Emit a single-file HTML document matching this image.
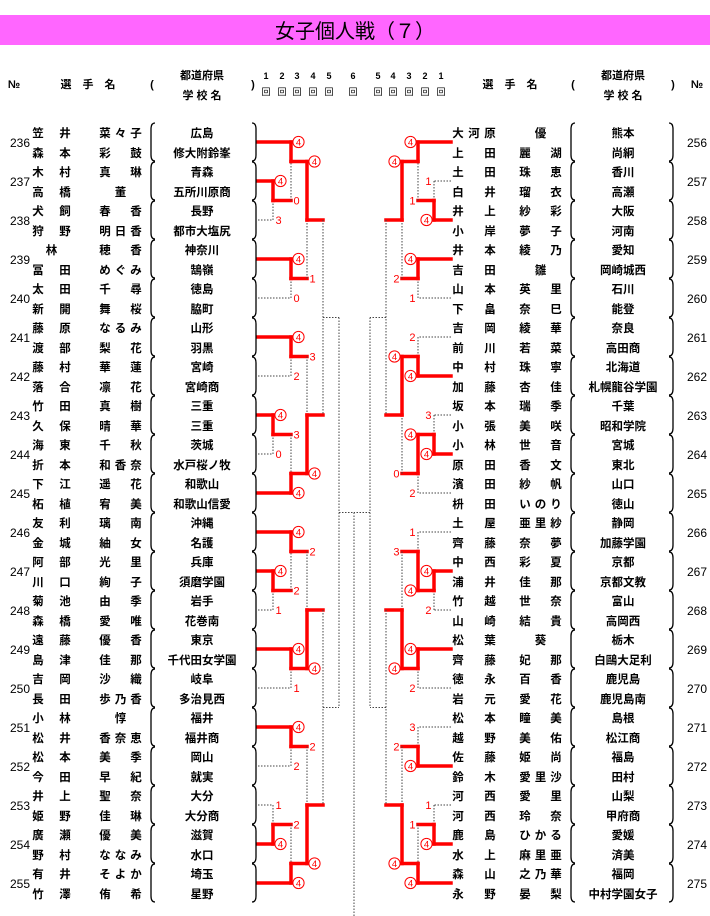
<!DOCTYPE html>
<html><head><meta charset="utf-8">
<style>
html,body{margin:0;padding:0;background:#fff;}
svg{display:block;font-family:"Liberation Sans","Noto Sans CJK JP",sans-serif;}
</style></head>
<body>
<svg id="chart" width="710" height="916" viewBox="0 0 710 916" xmlns="http://www.w3.org/2000/svg">
<rect x="0" y="15" width="710" height="30" fill="#ff66ff"/>
<text x="355" y="38" font-size="20" text-anchor="middle" fill="#000" font-family="Liberation Sans, Noto Sans CJK JP, sans-serif">女子個人戦（７）</text>
<g id="hdr" font-size="11" font-weight="bold" fill="#000">
<text x="14" y="88" text-anchor="middle">№</text>
<text x="88" y="88" text-anchor="middle">選　手　名</text>
<text x="152" y="88" text-anchor="middle">(</text>
<text x="202" y="79" text-anchor="middle">都道府県</text>
<text x="202" y="99" text-anchor="middle">学 校 名</text>
<text x="253" y="88" text-anchor="middle">)</text>
<text x="510" y="88" text-anchor="middle">選　手　名</text>
<text x="573" y="88" text-anchor="middle">(</text>
<text x="623" y="79" text-anchor="middle">都道府県</text>
<text x="623" y="99" text-anchor="middle">学 校 名</text>
<text x="673" y="88" text-anchor="middle">)</text>
<text x="697" y="88" text-anchor="middle">№</text>
</g>
<g id="rounds" font-size="9" fill="#000"></g>
<g id="lines"></g>
<g id="labels" font-size="11" fill="#f00"></g>
<g id="entries" font-size="11.5" font-weight="bold" fill="#000"></g>
</svg>
<script>
// ---- data ----
const leftNos = [236,237,238,239,240,241,242,243,244,245,246,247,248,249,250,251,252,253,254,255];
const rightNos = [256,257,258,259,260,261,262,263,264,265,266,267,268,269,270,271,272,273,274,275];
const leftPlayers = [
 ["笠井|菜々子","森本|彩鼓"],["木村|真琳","高橋|董"],["犬飼|春香","狩野|明日香"],["林|穂香","冨田|めぐみ"],["太田|千尋","新開|舞桜"],
 ["藤原|なるみ","渡部|梨花"],["藤村|華蓮","落合|凛花"],["竹田|真樹","久保|晴華"],["海東|千秋","折本|和香奈"],["下江|遥花","柘植|宥美"],
 ["友利|璃南","金城|紬女"],["阿部|光里","川口|絢子"],["菊池|由季","森橋|愛唯"],["遠藤|優香","島津|佳那"],["吉岡|沙織","長田|歩乃香"],
 ["小林|惇","松井|香奈恵"],["松本|美季","今田|早紀"],["井上|聖奈","姫野|佳琳"],["廣瀬|優美","野村|ななみ"],["有井|そよか","竹澤|侑希"]];
const leftPrefs = ["広島","青森","長野","神奈川","徳島","山形","宮崎","三重","茨城","和歌山","沖縄","兵庫","岩手","東京","岐阜","福井","岡山","大分","滋賀","埼玉"];
const leftSchools = ["修大附鈴峯","五所川原商","都市大塩尻","鵠嶺","脇町","羽黒","宮崎商","三重","水戸桜ノ牧","和歌山信愛","名護","須磨学園","花巻南","千代田女学園","多治見西","福井商","就実","大分商","水口","星野"];
const rightPlayers = [
 ["大河原|優","上田|麗湖"],["土田|珠恵","白井|瑠衣"],["井上|紗彩","小岸|夢子"],["井本|綾乃","吉田|雛"],["山本|英里","下畠|奈巳"],
 ["吉岡|綾華","前川|若菜"],["中村|珠寧","加藤|杏佳"],["坂本|瑞季","小張|美咲"],["小林|世音","原田|香文"],["濱田|紗帆","枡田|いのり"],
 ["土屋|亜里紗","齊藤|奈夢"],["中西|彩夏","浦井|佳那"],["竹越|世奈","山崎|結貴"],["松葉|葵","齊藤|妃那"],["徳永|百香","岩元|愛花"],
 ["松本|瞳美","越野|美佑"],["佐藤|姫尚","鈴木|愛里沙"],["河西|愛里","河西|玲奈"],["鹿島|ひかる","水上|麻里亜"],["森山|之乃華","永野|晏梨"]];
const rightPrefs = ["熊本","香川","大阪","愛知","石川","奈良","北海道","千葉","宮城","山口","静岡","京都","富山","栃木","鹿児島","島根","福島","山梨","愛媛","福岡"];
const rightSchools = ["尚絅","高瀬","河南","岡崎城西","能登","高田商","札幌龍谷学園","昭和学院","東北","徳山","加藤学園","京都文教","高岡西","白鷗大足利","鹿児島南","松江商","田村","甲府商","済美","中村学園女子"];
const leftRound = [1,2,2,3,2,1,2,3,4,1,2,2,3,2,1,2,3,4,5];
const leftTop   = ["e1","e0","e3","m1","e5","e7","m5","m4","m3","e11","e10","e13","m10","e15","e17","m14","m13","m12","m8"];
const leftBot   = ["e2","m0","e4","m2","e6","e8","e9","m6","m7","e12","m9","e14","m11","e16","e18","e19","m15","m16","m17"];
const leftWin   = ["t","t","t","t","t","t","b","b",null,"t","t","t","b","t","b","b","b",null,null];
const leftScoreT= [4,4,4,4,4,4,3,3,null,4,4,4,2,4,1,2,2,null,null];
const leftScoreB= [3,0,0,1,2,0,4,4,null,1,2,1,4,2,4,4,4,null,null];
const rightRound = [1,2,2,3,2,1,2,3,4,1,2,2,3,2,1,2,3,4,5];
const rightTop   = ["e1","e0","e3","m1","e5","e7","m5","m4","m3","e11","e10","e13","m10","e15","e17","m14","m13","m12","m8"];
const rightBot   = ["e2","m0","e4","m2","e6","e8","e9","m6","m7","e12","m9","e14","m11","e16","e18","e19","m15","m16","m17"];
const rightWin   = ["b","t","t","t","b","b","t","t",null,"t","b","t","b","b","b","b","b",null,null];
const rightScoreT= [1,4,4,4,2,3,4,4,null,4,1,4,3,3,1,1,2,null,null];
const rightScoreB= [4,1,1,2,4,4,2,0,null,2,4,2,4,4,4,4,4,null,null];
const roundLabelsLeft = ["1","2","3","4","5","6"];
const roundLabelsRight = ["5","4","3","2","1"];

// ---- layout ----
const NS="http://www.w3.org/2000/svg";
const CENTER_X=354;
const entryY=i=>142+39*i;
const colLeft=[258,273,291,307,323,339];
const colRight=[451,434,418,402,386,370];
function mk(tag,attrs,parent){const el=document.createElementNS(NS,tag);for(const k in attrs)el.setAttribute(k,attrs[k]);parent.appendChild(el);return el;}
const gL=document.getElementById('lines'),gLab=document.getElementById('labels'),gE=document.getElementById('entries'),gR=document.getElementById('rounds');

const roundXL=[266,282,297,313,329,353], roundXR=[378,393,409,425,441];
roundLabelsLeft.forEach((t,i)=>{
  const tx=mk('text',{x:roundXL[i],y:79,'text-anchor':'middle','font-weight':'bold'},gR);tx.textContent=t;
  
  
  const b=mk('text',{x:roundXL[i],y:95,'text-anchor':'middle'},gR);b.textContent='回';
  
  
});
roundLabelsRight.forEach((t,i)=>{
  const tx=mk('text',{x:roundXR[i],y:79,'text-anchor':'middle','font-weight':'bold'},gR);tx.textContent=t;
  
  
  const b=mk('text',{x:roundXR[i],y:95,'text-anchor':'middle'},gR);b.textContent='回';
  
  
});

function line(x1,y1,x2,y2,red){
  const l=mk('line',{x1,y1,x2,y2},gL);
  if(red){l.setAttribute('stroke','#ff0000');l.setAttribute('stroke-width','3.5');l.setAttribute('stroke-linecap','square');}
  else{l.setAttribute('stroke','#444');l.setAttribute('stroke-width','1');l.setAttribute('stroke-dasharray','1.5,1.5');}
  
  
}
function label(x,y,val,win,dir){
  if(win){
    const cx=x+dir*6;
    const c=mk('circle',{cx,cy:y,r:5.6,fill:'#fff',stroke:'#f00','stroke-width':'1'},gLab);
    
    
    const t=mk('text',{x:cx,y:y+3.3,'text-anchor':'middle','font-size':'9.5'},gLab);
    t.textContent=String(val);
    
    
  } else {
    const t=mk('text',{x:x+dir*1,y:y+4,'text-anchor':dir>0?'start':'end'},gLab);
    t.textContent=String(val);
    
    
  }
}

function drawSide(side,round,tops,bots,wins,sT,sB){
  const cols=side==='L'?colLeft:colRight, dir=side==='L'?1:-1;
  const n=round.length, info=[];
  const parse=s=>({t:s[0],i:+s.slice(1)});
  function rng(c){return c.t==='e'?[c.i,c.i]:info[c.i].r;}
  function cy(c){return c.t==='e'?entryY(c.i):info[c.i].y;}
  for(let k=0;k<n;k++){
    const a=parse(tops[k]),b=parse(bots[k]);
    const r=[rng(a)[0],rng(b)[1]], cnt=r[1]-r[0]+1;
    let y;
    if(cnt===3) y=a.t==='e'?(entryY(r[0])+entryY(r[0]+1))/2:(entryY(r[1]-1)+entryY(r[1]))/2;
    else y=(entryY(r[0])+entryY(r[1]))/2;
    info[k]={a,b,r,y,x:cols[round[k]]};
  }
  const parentOfM={},parentOfE={};
  for(let k=0;k<n;k++){[info[k].a,info[k].b].forEach((c,j)=>{if(c.t==='e')parentOfE[c.i]={k,j};else parentOfM[c.i]={k,j};});}
  for(let e=0;e<20;e++){
    const p=parentOfE[e]; const m=info[p.k];
    const won=wins[p.k]===(p.j===0?'t':'b');
    line(cols[0],entryY(e),m.x,entryY(e),won);
  }
  const labs=[];
  for(let k=0;k<n;k++){
    const m=info[k], yT=cy(m.a), yB=cy(m.b);
    const px=parentOfM[k]?info[parentOfM[k].k].x:CENTER_X;
    const played=wins[k]!==null;
    if(played){
      const yw=wins[k]==='t'?yT:yB, yl=wins[k]==='t'?yB:yT;
      line(m.x,yl,m.x,m.y,false);
      line(m.x,yw,m.x,m.y,true);
      line(m.x,m.y,px,m.y,true);
      labs.push([m.x+dir*1.5,yT,sT[k],sT[k]===4]);
      labs.push([m.x+dir*1.5,yB,sB[k],sB[k]===4]);
    } else {
      line(m.x,yT,m.x,yB,false);
      line(m.x,m.y,px,m.y,false);
    }
  }
  labs.forEach(l=>label(l[0],l[1],l[2],l[3],dir));
  return info[n-1].y;
}
const yFinal=drawSide('L',leftRound,leftTop,leftBot,leftWin,leftScoreT,leftScoreB);
drawSide('R',rightRound,rightTop,rightBot,rightWin,rightScoreT,rightScoreB);
line(CENTER_X,yFinal,CENTER_X,916,false);

function nameChars(str,famL,famR,givL,givR,y,grp){
  const [f,g]=str.split('|');
  [[f,famL,famR],[g,givL,givR]].forEach(([s,l,r])=>{
    const cs=[...s];
    cs.forEach((ch,i)=>{
      const x=cs.length===1?(l+r)/2:l+(r-l)*i/(cs.length-1);
      const t=mk('text',{x,y,'text-anchor':'middle'},grp);t.textContent=ch;
    });
  });
}
function paren(x,y,open){
  const d=open?`M${x+4},${y-19} Q${x},${y-19} ${x},${y-13} L${x},${y+13} Q${x},${y+19} ${x+4},${y+19}`
              :`M${x-4},${y-19} Q${x},${y-19} ${x},${y-13} L${x},${y+13} Q${x},${y+19} ${x-4},${y+19}`;
  const p=mk('path',{d,fill:'none',stroke:'#000','stroke-width':'1.3'},gE);
  
  
}
function entries(nos,players,prefs,schools,L){
  for(let i=0;i<20;i++){
    const y=entryY(i);
    const g=mk('g',{},gE);
    
    
    const no=mk('text',{x:L?20:697,y:y+5,'text-anchor':'middle','font-weight':'normal','font-size':'12'},g);no.textContent=nos[i];
    if(L){nameChars(players[i][0],38,65,105,136,y-5,g);nameChars(players[i][1],38,65,105,136,y+15,g);}
    else{nameChars(players[i][0],458,490,525,556,y-5,g);nameChars(players[i][1],458,490,525,556,y+15,g);}
    const cx=L?202:623;
    const p=mk('text',{x:cx,y:y-5,'text-anchor':'middle'},g);p.textContent=prefs[i];
    const s=mk('text',{x:cx,y:y+15,'text-anchor':'middle'},g);s.textContent=schools[i];
    if(L){paren(151,y,true);paren(256,y,false);}else{paren(571,y,true);paren(673,y,false);}
  }
}
entries(leftNos,leftPlayers,leftPrefs,leftSchools,true);
entries(rightNos,rightPlayers,rightPrefs,rightSchools,false);
</script>
</body></html>
